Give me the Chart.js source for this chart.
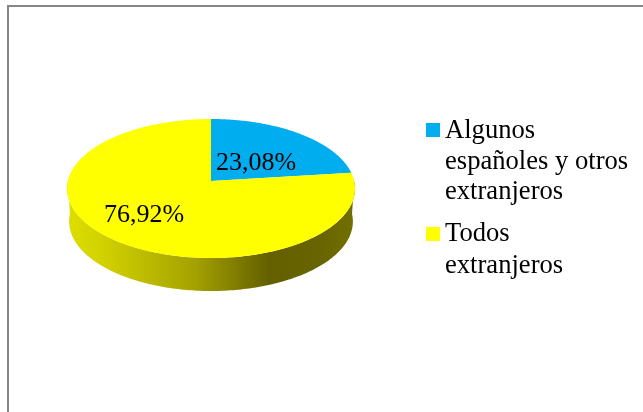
<!DOCTYPE html>
<html>
<head>
<meta charset="utf-8">
<style>
  html, body { margin: 0; padding: 0; background: #fff; }
  canvas { display: block; }
</style>
<script src="https://cdn.jsdelivr.net/npm/chart.js@4"></script>
</head>
<body>
<canvas id="myChart" width="643" height="412"></canvas>
<script>
const categories = [["Algunos", "españoles y otros", "extranjeros"], ["Todos", "extranjeros"]];
const values = [23.08, 76.92];
const sliceColors = ["#00aeef", "#ffff00"];

// perspective of the tilted disc
const flatten = 0.477, persp = 0.108, widthFix = 0.9944, depth = 33, bottomShrink = 0.985;
const wallStops = [[0, "#dede00"], [0.12, "#d2d200"], [0.44, "#a5a200"], [0.7, "#646000"], [0.88, "#686400"], [1, "#727000"]];

function project(arc, a) {
  const u = Math.cos(a), v = -Math.sin(a), w = 1 + persp * v;
  return {
    x: arc.outerRadius * widthFix * u / w,
    y: arc.y - arc.outerRadius * flatten * v / w
  };
}

function rimPath(ctx, arc, from, to, dy, shrink) {
  const steps = 180;
  for (let i = 0; i <= steps; i++) {
    const p = project(arc, from + (to - from) * i / steps);
    ctx.lineTo(arc.x + p.x * shrink, p.y + dy);
  }
}

const pie3d = {
  id: "pie3d",
  beforeDraw(chart) {
    const ctx = chart.ctx;
    ctx.save();
    ctx.fillStyle = "#868686";
    ctx.fillRect(7, 5, 636, 2);
    ctx.fillRect(7, 5, 2, 407);
    ctx.restore();
  },
  beforeDatasetsDraw(chart) {
    const ctx = chart.ctx;
    const arcs = chart.getDatasetMeta(0).data;
    const first = arcs[0];
    ctx.save();
    // side wall
    const left = first.x - first.outerRadius, right = first.x + first.outerRadius;
    const grad = ctx.createLinearGradient(left, 0, right, 0);
    wallStops.forEach(s => grad.addColorStop(s[0], s[1]));
    ctx.beginPath();
    rimPath(ctx, first, 0, Math.PI, 0, 1);
    rimPath(ctx, first, Math.PI, 0, depth, bottomShrink);
    ctx.closePath();
    ctx.fillStyle = grad;
    ctx.fill();
    // top face, angles come from the library's arc elements
    arcs.forEach((arc, i) => {
      ctx.beginPath();
      ctx.moveTo(arc.x, arc.y);
      rimPath(ctx, arc, arc.startAngle, arc.endAngle, 0, 1);
      ctx.closePath();
      ctx.fillStyle = sliceColors[i];
      ctx.fill();
    });
    ctx.restore();
    return false;
  },
  afterDraw(chart) {
    const ctx = chart.ctx;
    ctx.save();
    ctx.fillStyle = "#000";
    ctx.font = "26px 'Liberation Serif'";
    ctx.textBaseline = "alphabetic";
    const labelPos = [[216, 170], [104, 222]];
    values.forEach((v, i) => {
      ctx.fillText(v.toFixed(2).replace(".", ",") + "%", labelPos[i][0], labelPos[i][1]);
    });
    // legend
    ctx.font = "26.6px 'Liberation Serif'";
    const swatchY = [123, 227];
    const baselines = [[138, 169, 199], [241, 273]];
    categories.forEach((lines, i) => {
      ctx.fillStyle = sliceColors[i];
      ctx.fillRect(426, swatchY[i], 14, 14);
      ctx.fillStyle = "#000";
      lines.forEach((t, j) => ctx.fillText(t, 445, baselines[i][j]));
    });
    ctx.restore();
  }
};

new Chart(document.getElementById("myChart"), {
  type: "pie",
  data: {
    labels: categories,
    datasets: [{ data: values, backgroundColor: sliceColors, borderWidth: 0 }]
  },
  options: {
    responsive: false,
    animation: false,
    layout: { padding: { left: 67, right: 288, top: 37, bottom: 87 } },
    plugins: { legend: { display: false }, tooltip: { enabled: false } }
  },
  plugins: [pie3d]
});
</script>
</body>
</html>
